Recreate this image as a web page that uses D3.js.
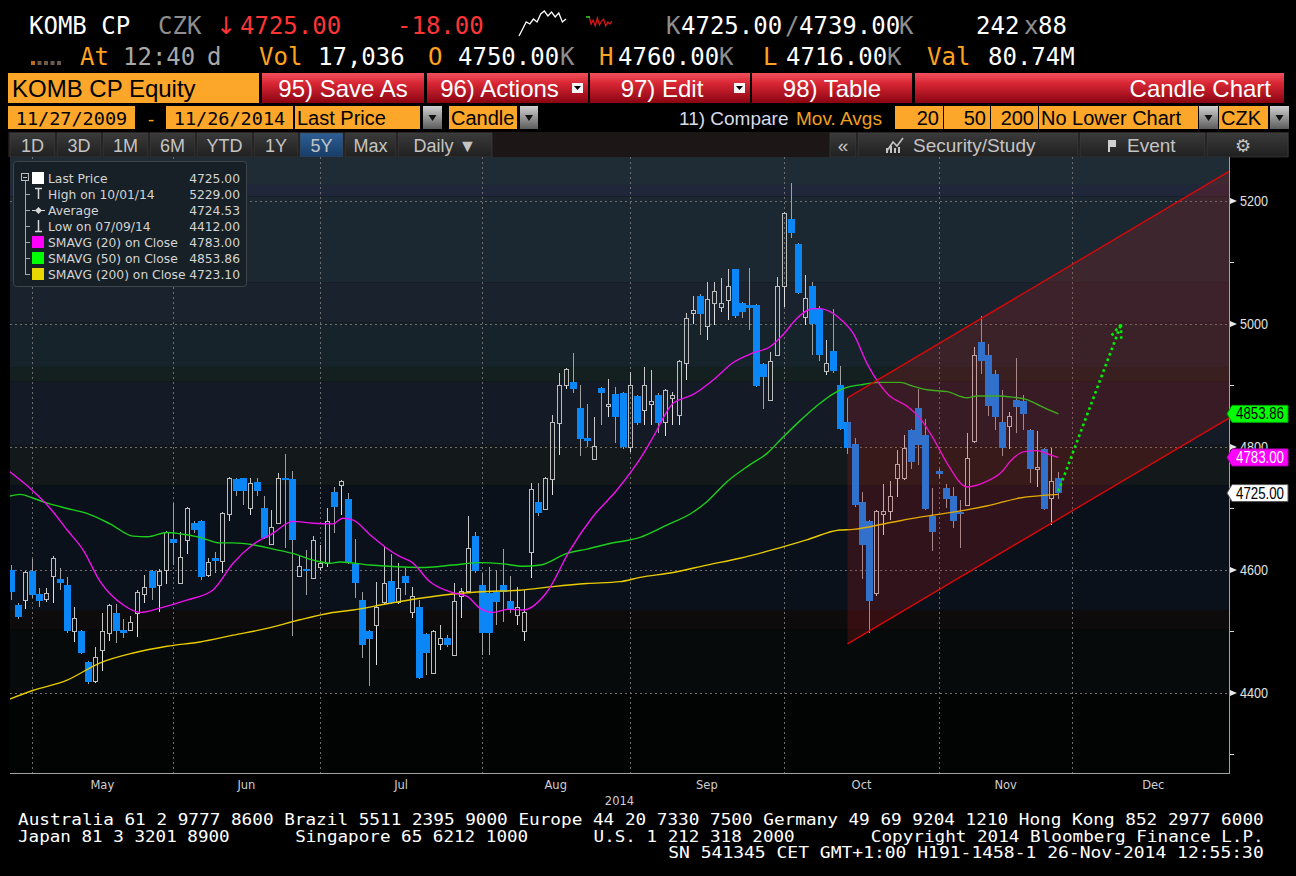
<!DOCTYPE html>
<html><head><meta charset="utf-8">
<script src="https://cdn.jsdelivr.net/npm/d3@7"></script>
<style>html,body{margin:0;padding:0;background:#000;overflow:hidden}svg{display:block}</style>
</head><body>
<svg id="chart" width="1296" height="876"></svg>
<script>
// ---------------- DATA ----------------
const dates = ["04-25","04-28","04-29","04-30",
"05-02","05-05","05-06","05-07","05-09","05-12","05-13","05-14","05-15","05-16","05-19","05-20","05-21","05-22","05-23","05-26","05-27","05-28","05-29","05-30",
"06-02","06-03","06-04","06-05","06-06","06-09","06-10","06-11","06-12","06-13","06-16","06-17","06-18","06-19","06-20","06-23","06-24","06-25","06-26","06-27","06-30",
"07-01","07-02","07-03","07-04","07-07","07-08","07-09","07-10","07-11","07-14","07-15","07-16","07-17","07-18","07-21","07-22","07-23","07-24","07-25","07-28","07-29","07-30","07-31",
"08-01","08-04","08-05","08-06","08-07","08-08","08-11","08-12","08-13","08-14","08-15","08-18","08-19","08-20","08-21","08-22","08-25","08-26","08-27","08-28","08-29",
"09-01","09-02","09-03","09-04","09-05","09-08","09-09","09-10","09-11","09-12","09-15","09-16","09-17","09-18","09-19","09-22","09-23","09-24","09-25","09-26","09-29","09-30",
"10-01","10-02","10-03","10-06","10-07","10-08","10-09","10-10","10-13","10-14","10-15","10-16","10-17","10-20","10-21","10-22","10-23","10-24","10-27","10-29","10-30","10-31",
"11-03","11-04","11-05","11-06","11-07","11-10","11-11","11-12","11-13","11-14","11-18","11-19","11-20","11-21","11-24","11-25","11-26"];

const opens = [4600,4543,4551,4598,4561,4553,4590,4585,4576,4500,4500,4450,4419,4470,4498,4530,4502,4503,4530,4561,
4599,4576,4600,4650,4579,4649,4676,4680,4592,4619,4615,4691,4748,4749,4701,4743,4700,4642,4677,4749,
4748,4590,4602,4587,4605,4611,4726,4738,4715,4610,4551,4500,4510,4548,4582,4548,4590,4531,4540,4496,
4433,4480,4489,4462,4557,4566,4655,4576,4563,4565,4576,4550,4527,4500,4630,4710,4699,4748,4839,4901,
4906,4863,4815,4780,4896,4866,4886,4888,4800,4883,4860,4870,4885,4841,4880,4852,4937,5018,5046,4996,
5034,5027,5039,5089,5034,5031,5031,4935,4876,4950,5061,5170,5130,5012,5062,5024,4923,4956,4901,4841,
4805,4711,4680,4562,4691,4696,4749,4749,4828,4863,4820,4687,4761,4734,4720,4695,4706,4809,4971,4950,
4919,4840,4834,4876,4874,4828,4765,4796,4717,4750];
const highs = [4608,4547,4598,4618,4571,4570,4622,4603,4588,4540,4502,4452,4475,4530,4545,4545,4520,4525,4567,4592,
4600,4601,4663,4709,4662,4703,4680,4682,4620,4630,4695,4752,4750,4750,4750,4750,4720,4697,4757,4789,
4761,4625,4632,4656,4640,4700,4735,4746,4725,4650,4565,4502,4581,4639,4626,4612,4603,4573,4551,4498,
4502,4510,4495,4579,4570,4688,4662,4595,4605,4600,4634,4590,4573,4567,4741,4741,4752,4852,4920,4928,
4953,4901,4870,4849,4898,4910,4898,4890,4922,4885,4930,4925,4887,4894,4890,4942,5018,5046,5048,5069,
5069,5075,5089,5090,5036,5091,5033,4937,4955,5076,5182,5229,5132,5080,5068,5030,4974,5024,4932,4880,
4815,4727,4682,4698,4740,4744,4795,4820,4830,4895,4845,4733,4765,4740,4735,4714,4822,4962,5013,4968,
4925,4892,4857,4944,4885,4830,4826,4798,4799,4760];
const lows = [4551,4520,4537,4555,4540,4548,4547,4567,4498,4483,4463,4415,4416,4436,4485,4482,4490,4500,4491,4546,
4551,4532,4577,4608,4578,4626,4660,4583,4588,4595,4595,4679,4721,4706,4690,4721,4650,4640,4675,4636,
4492,4588,4559,4585,4600,4605,4660,4690,4610,4554,4457,4412,4446,4545,4545,4545,4560,4522,4423,4429,
4432,4470,4475,4460,4522,4565,4595,4462,4462,4511,4516,4530,4510,4485,4587,4688,4697,4722,4787,4895,
4888,4785,4800,4779,4836,4849,4806,4797,4792,4835,4836,4836,4823,4818,4835,4836,4909,5000,4982,4974,
4998,5020,5006,5010,5010,4990,4897,4861,4874,4948,5028,5140,5048,4998,4950,4940,4917,4920,4828,4789,
4703,4586,4497,4558,4657,4681,4719,4747,4765,4771,4697,4631,4750,4700,4668,4636,4704,4807,4919,4850,
4827,4785,4796,4822,4827,4741,4735,4697,4673,4716];
const closes = [4564,4524,4597,4560,4550,4563,4620,4579,4500,4522,4465,4418,4458,4501,4543,4500,4498,4516,4565,4572,
4570,4599,4661,4644,4621,4701,4665,4589,4613,4615,4693,4750,4729,4729,4741,4729,4652,4670,4750,4746,
4649,4606,4599,4649,4612,4680,4703,4744,4613,4579,4478,4488,4540,4579,4547,4571,4579,4557,4425,4465,
4500,4489,4478,4550,4566,4636,4599,4498,4498,4548,4565,4537,4540,4531,4731,4692,4749,4841,4901,4927,
4894,4813,4809,4802,4888,4870,4849,4800,4901,4839,4901,4874,4839,4892,4885,4940,5010,5022,5017,5040,
5053,5034,5061,5013,5020,5026,4899,4914,4940,5061,5180,5148,5050,5042,5000,4950,4937,4924,4830,4799,
4705,4640,4550,4696,4696,4720,4772,4798,4775,4803,4699,4661,4756,4715,4679,4691,4782,4950,4939,4867,
4849,4799,4850,4865,4853,4765,4768,4699,4744,4725];

// moving averages: [trading-day index, value]
const sma20 = [[-0.2,4760],[3,4730],[5.6,4700],[8,4665],[10.3,4632],[12.7,4581],[16,4543],[18.4,4531],[21.2,4538],[25,4551],
[28.7,4567],[31.6,4611],[34.4,4641],[37.3,4660],[40.1,4679],[43,4676],[45.8,4675],[47.2,4684],[48.7,4681],[51.1,4657],
[53.5,4635],[55.3,4622],[57,4613],[59.6,4581],[62.9,4563],[64.9,4557],[66.7,4538],[68.6,4531],[70.6,4536],[72.9,4535],
[76.3,4565],[79.5,4632],[82.8,4687],[86.2,4730],[89.9,4788],[91.3,4815],[94.2,4871],[97,4885],[99.9,4909],[102.7,4937],
[105.6,4953],[108,4963],[109.8,4982],[111.8,5009],[114.1,5025],[115.1,5025],[117.9,5009],[119.8,4985],[121.9,4933],[124.8,4885],
[127.5,4866],[129.3,4847],[131.2,4814],[133.2,4773],[136,4735],[138.8,4744],[141,4760],[142.1,4776],[144,4792],[146,4794],
[147.4,4789],[149,4783]];
const sma50 = [[-0.2,4720],[1.3,4723],[3.1,4717],[5.1,4709],[8,4700],[10.8,4692],[14.1,4675],[17.4,4655],[19.4,4654],[22.2,4661],
[24,4659],[26.9,4653],[29.7,4644],[31.6,4644],[34.4,4641],[37.3,4634],[40.1,4627],[43,4616],[45.4,4611],[46.8,4613],
[51.1,4608],[58.2,4604],[62.9,4608],[66.7,4612],[70,4610],[72.9,4606],[75.3,4608],[79.1,4627],[81.9,4634],[85.2,4643],
[89.5,4653],[93.3,4673],[96.9,4693],[99,4711],[101.9,4744],[105.1,4771],[107.6,4790],[109.4,4811],[112,4840],[115.1,4871],
[116.9,4886],[118.9,4897],[120.8,4901],[123.6,4905],[126.5,4905],[128.3,4899],[130.3,4893],[133.2,4890],[136,4880],[137.4,4883],
[140.3,4883],[142.5,4881],[144.5,4877],[146.4,4867],[149,4854]];
const sma200 = [[-0.2,4390],[3.1,4404],[8,4421],[12.7,4449],[17.4,4465],[22.2,4476],[26.9,4483],[31.6,4494],[36.4,4505],[41.1,4519],
[45.4,4530],[48.7,4535],[53.5,4545],[58.2,4554],[62.9,4561],[67.7,4565],[72.4,4567],[77.1,4573],[81.9,4578],[86.6,4581],
[89.5,4588],[94.2,4596],[99,4608],[103.7,4619],[108.4,4633],[113.2,4649],[117.9,4665],[119.8,4666],[124.6,4676],[129.3,4686],
[134,4694],[138.8,4704],[143.5,4717],[149,4723]];

const monthNames = ["May","Jun","Jul","Aug","Sep","Oct","Nov","Dec"];
const monthBounds = [3,23,44,67,88,110,132,151,174];
const yearLabel = "2014";
const yTicksMajor = [4400,4600,4800,5000,5200];
const yTicksMinor = [4300,4500,4700,4900,5100];
const channelUpper = [[119,4880],[173.27,5248]];
const channelLower = [[119,4480],[173.27,4847]];
const trendArrow = [[149,4728],[157.9,4999]];
const tagValues = [4853.86, 4783.00, 4725.00];
const legendLabels = ["Last Price","High on 10/01/14","Average","Low on 07/09/14","SMAVG (20) on Close","SMAVG (50) on Close","SMAVG (200) on Close"];
const legendValues = ["4725.00","5229.00","4724.53","4412.00","4783.00","4853.86","4723.10"];
const sparkWhite = [3,10,17,15,20,17,25,28,23,27,22,26,17,20];
const sparkRed = [18,10,14,8,16,9,13,15,8,12,10,13];

// ---------------- SETUP ----------------
const MONO = "'DejaVu Sans Mono', monospace";
const SANS = "'Liberation Sans', Arial, sans-serif";
const DJ = "'DejaVu Sans', sans-serif";
const svg = d3.select("#chart");
const defs = svg.append("defs");
function vgrad(id, stops){
  const g = defs.append("linearGradient").attr("id",id).attr("x1",0).attr("y1",0).attr("x2",0).attr("y2",1);
  stops.forEach(s=>g.append("stop").attr("offset",s[0]).attr("stop-color",s[1]));
}
vgrad("redBtn",[[0,"#f2505c"],[0.35,"#d82634"],[1,"#8a0412"]]);
vgrad("greyDrop",[[0,"#d0d0d0"],[1,"#5c5c5c"]]);
vgrad("tabBtn",[[0,"#3a3a3a"],[1,"#202020"]]);
vgrad("tabSel",[[0,"#2d5f96"],[1,"#173c66"]]);

svg.append("rect").attr("width",1296).attr("height",876).attr("fill","#000");

function T(x,y,s,o={}){
  const t = svg.append("text").attr("x",x).attr("y",y).text(s)
    .attr("fill",o.fill||"#fff").attr("font-family",o.ff||MONO)
    .attr("font-size",o.fs||24).attr("text-anchor",o.a||"start")
    .attr("font-weight",o.w||"normal");
  if(o.len) t.attr("textLength",o.len).attr("lengthAdjust","spacingAndGlyphs");
  return t;
}

// ---------------- HEADER ROW 1 ----------------
const ORANGE = "#ffa21f", GREY="#8e8e8e", RED="#ff3434";
T(29,34,"KOMB CP");
T(158,34,"CZK",{fill:GREY});
T(216,34,"↓",{fill:RED,ff:DJ,fs:24});
T(240,34,"4725.00",{fill:RED});
T(397,34,"-18.00",{fill:RED});
{
  const sx = d3.scaleLinear().domain([0,sparkWhite.length-1]).range([519,566]);
  const sy = d3.scaleLinear().domain([0,30]).range([39,9]);
  svg.append("path").attr("d",d3.line().x((d,i)=>sx(i)).y(d=>sy(d))(sparkWhite))
    .attr("fill","none").attr("stroke","#fff").attr("stroke-width",1.3);
  const rx = d3.scaleLinear().domain([0,sparkRed.length-1]).range([589,612]);
  const ry = d3.scaleLinear().domain([0,30]).range([34,4]);
  svg.append("path").attr("d",d3.line().x((d,i)=>rx(i)).y(d=>ry(d))(sparkRed))
    .attr("fill","none").attr("stroke","#e01818").attr("stroke-width",1.2);
  svg.append("line").attr("x1",586).attr("x2",590).attr("y1",17).attr("y2",17).attr("stroke","#2ad02a").attr("stroke-width",1.5);
}
T(666,34,"K",{fill:GREY});
T(681,34,"4725.00");
T(785,34,"/",{fill:GREY});
T(799,34,"4739.00");
T(899,34,"K",{fill:GREY});
T(976,34,"242");
T(1024,34,"x",{fill:GREY});
T(1038,34,"88");

// ---------------- HEADER ROW 2 ----------------
[0,1,2,3,4].forEach(i=>svg.append("rect").attr("x",31+i*6.5).attr("y",61).attr("width",4).attr("height",4)
  .attr("fill", i===0?"#c06a18":"#6a5a4a"));
T(80,65,"At",{fill:ORANGE});
T(123,65,"12:40",{fill:"#a8a8a8"});
T(207,65,"d",{fill:"#a8a8a8"});
T(259,65,"Vol",{fill:ORANGE});
T(318,65,"17,036");
T(428,65,"O",{fill:ORANGE});
T(458,65,"4750.00");
T(560,65,"K",{fill:GREY});
T(599,65,"H",{fill:ORANGE});
T(618,65,"4760.00");
T(719,65,"K",{fill:GREY});
T(763,65,"L",{fill:ORANGE});
T(786,65,"4716.00");
T(887,65,"K",{fill:GREY});
T(927,65,"Val",{fill:ORANGE});
T(988,65,"80.74M");

// ---------------- ROW 3: buttons ----------------
svg.append("rect").attr("x",8).attr("y",73).attr("width",251).attr("height",30).attr("fill","#fca62a");
T(12,97,"KOMB CP Equity",{fill:"#000",ff:SANS,fs:24});
const btns = [[262,424,"95) Save As",false],[427,588,"96) Actions",true],[590,750,"97) Edit",true],[752,912,"98) Table",false]];
btns.forEach(b=>{
  svg.append("rect").attr("x",b[0]).attr("y",73).attr("width",b[1]-b[0]).attr("height",30).attr("fill","url(#redBtn)");
  const cx = (b[0]+b[1])/2 - (b[3]?8:0);
  T(cx,97,b[2],{ff:SANS,fs:24,a:"middle"});
  if(b[3]){
    const bx = b[1]-16;
    svg.append("rect").attr("x",bx).attr("y",83).attr("width",11).attr("height",10).attr("fill","#f4f4f4");
    svg.append("path").attr("d",`M${bx+2},${86}L${bx+9},${86}L${bx+5.5},${90}Z`).attr("fill","#000");
  }
});
svg.append("rect").attr("x",915).attr("y",73).attr("width",369).attr("height",30).attr("fill","url(#redBtn)");
T(1271,97,"Candle Chart",{ff:SANS,fs:24,a:"end"});

// ---------------- ROW 4 ----------------
function obox(x0,x1,label,anchor,fs,ff){
  svg.append("rect").attr("x",x0).attr("y",106).attr("width",x1-x0).attr("height",23).attr("fill","#fca62a");
  const tx = anchor==="end"? x1-4 : anchor==="middle" ? (x0+x1)/2 : x0+2;
  T(tx,125,label,{fill:"#000",ff:ff||SANS,fs:fs||19,a:anchor||"start"});
}
function gdrop(x0,x1){
  svg.append("rect").attr("x",x0).attr("y",106).attr("width",x1-x0).attr("height",23).attr("fill","url(#greyDrop)");
  const c=(x0+x1)/2;
  svg.append("path").attr("d",`M${c-4},${115}L${c+4},${115}L${c},${121}Z`).attr("fill","#111");
}
obox(8,135,"11/27/2009","middle",18.5,MONO);
T(151,125,"-",{fill:ORANGE,ff:MONO,fs:18.5,a:"middle"});
obox(166,293,"11/26/2014","middle",18.5,MONO);
obox(295,420,"Last Price","start",20);
gdrop(423,442);
obox(449,517,"Candle","start",20);
gdrop(520,538);
T(679,125,"11) Compare",{fill:"#d6dcea",ff:SANS,fs:19});
T(796,125,"Mov. Avgs",{fill:"#f0a020",ff:SANS,fs:19});
obox(895,943,"20","end",20);
obox(944,990,"50","end",20);
obox(991,1038,"200","end",20);
obox(1039,1198,"No Lower Chart","start",20);
gdrop(1199,1218);
obox(1219,1268,"CZK","start",20);
gdrop(1270,1289);

// ---------------- ROW 5: tabs ----------------
svg.append("rect").attr("x",8).attr("y",132).attr("width",1281).attr("height",25).attr("fill","#1d1616");
const tabs = [[10,55,"1D"],[57,101,"3D"],[103,148,"1M"],[150,195,"6M"],[197,252,"YTD"],[254,298,"1Y"],[300,343,"5Y"],[345,396,"Max"],[398,492,"Daily ▼"]];
tabs.forEach(tb=>{
  svg.append("rect").attr("x",tb[0]).attr("y",133).attr("width",tb[1]-tb[0]).attr("height",24)
    .attr("fill", tb[2]==="5Y"?"url(#tabSel)":"url(#tabBtn)").attr("stroke","#454545").attr("stroke-width",0.6);
  T((tb[0]+tb[1])/2,152,tb[2],{fill:"#c4c4c4",ff:SANS,fs:18,a:"middle"});
});
const rtabs = [[830,856],[858,1078],[1080,1205],[1207,1288]];
rtabs.forEach(tb=>svg.append("rect").attr("x",tb[0]).attr("y",133).attr("width",tb[1]-tb[0]).attr("height",24)
  .attr("fill","url(#tabBtn)").attr("stroke","#454545").attr("stroke-width",0.6));
T(843,152,"«",{fill:"#c4c4c4",ff:SANS,fs:19,a:"middle"});
svg.append("path").attr("d","M887,151 L893,142 L897,146 L903,138").attr("fill","none").attr("stroke","#c4c4c4").attr("stroke-width",1.6);
[[886,148,2,5],[890,146,2,7],[894,148,2,5],[898,147,2,6]].forEach(r=>svg.append("rect").attr("x",r[0]).attr("y",r[1]).attr("width",r[2]).attr("height",r[3]).attr("fill","#c4c4c4"));
T(913,152,"Security/Study",{fill:"#c4c4c4",ff:SANS,fs:19});
svg.append("path").attr("d","M1108,140 L1116,140 L1116,147 L1110,147 L1110,152 L1108,152 Z").attr("fill","#d0d0d0");
T(1127,152,"Event",{fill:"#c4c4c4",ff:SANS,fs:19});
T(1243,152,"⚙",{fill:"#c4c4c4",ff:DJ,fs:18,a:"middle"});

// ---------------- PLOT ----------------
const PL=10, PR=1229, PT=157, PB=773;
const x = d3.scaleLinear().domain([-0.13,173.27]).range([PL,PR]);
const y = d3.scaleLinear().domain([4269.9,5271.5]).range([PB,PT]);

defs.append("clipPath").attr("id","plotClip").append("rect").attr("x",PL).attr("y",PT).attr("width",PR-PL).attr("height",PB-PT);
const plot = svg.append("g").attr("clip-path","url(#plotClip)");

const bgBands = [[5272,5226,"#1f2c35"],[5226,5207,"#20273a"],[5207,5067,"#1b2831"],[5067,5002,"#1a222e"],[5002,4930,"#17232a"],
 [4930,4906,"#142020"],[4906,4803,"#141b27"],[4803,4738,"#13191a"],[4738,4535,"#0b111a"],[4535,4503,"#0e0b0c"],[4503,4400,"#060a0a"],[4400,4260,"#020303"]];
plot.selectAll("rect.band").data(bgBands).join("rect").attr("class","band")
  .attr("x",PL).attr("width",PR-PL).attr("y",d=>y(d[0])).attr("height",d=>y(d[1])-y(d[0])).attr("fill",d=>d[2]);

plot.selectAll("line.hg").data(yTicksMajor).join("line").attr("class","hg")
  .attr("x1",PL).attr("x2",PR).attr("y1",d=>Math.round(y(d))+0.5).attr("y2",d=>Math.round(y(d))+0.5)
  .attr("stroke","#6e6e6e").attr("stroke-dasharray","2,3").attr("stroke-width",1);
plot.selectAll("line.vg").data(monthBounds).join("line").attr("class","vg")
  .attr("x1",d=>Math.round(x(d))+0.5).attr("x2",d=>Math.round(x(d))+0.5).attr("y1",PT).attr("y2",PB)
  .attr("stroke","#6e6e6e").attr("stroke-dasharray","2,3").attr("stroke-width",1);

const candles = dates.map((d,i)=>({i,o:opens[i],h:highs[i],l:lows[i],c:closes[i]}));
const BLUE = "#0b86f7";
const cg = plot.append("g");
candles.forEach(d=>{
  const xi = Math.round(x(d.i));
  const up = d.c >= d.o;
  const yTop = Math.round(y(Math.max(d.o,d.c))), yBot = Math.round(y(Math.min(d.o,d.c)));
  const yH = Math.round(y(d.h)), yL = Math.round(y(d.l));
  if(up){
    cg.append("line").attr("x1",xi+0.5).attr("x2",xi+0.5).attr("y1",yH).attr("y2",yTop).attr("stroke","#c8c8c8");
    cg.append("line").attr("x1",xi+0.5).attr("x2",xi+0.5).attr("y1",yBot).attr("y2",yL).attr("stroke","#e0e0e0");
    cg.append("rect").attr("x",xi-1.5).attr("y",yTop+0.5).attr("width",4).attr("height",Math.max(0,yBot-yTop))
      .attr("fill","none").attr("stroke","#bdbdbd").attr("stroke-width",1);
  } else {
    cg.append("line").attr("x1",xi+0.5).attr("x2",xi+0.5).attr("y1",yH).attr("y2",yL).attr("stroke","#a0a0a0");
    cg.append("rect").attr("x",xi-3).attr("y",yTop).attr("width",7).attr("height",Math.max(2,yBot-yTop)).attr("fill",BLUE);
  }
});

const maLine = d3.line().x(d=>x(d[0])).y(d=>y(d[1])).curve(d3.curveMonotoneX);
[[sma200,"#e8cc00"],[sma50,"#1ccf1c"],[sma20,"#ee10ee"]].forEach(m=>{
  plot.append("path").attr("d",maLine(m[0])).attr("fill","none").attr("stroke",m[1]).attr("stroke-width",1.4);
});

const chanPoly = channelUpper.concat(channelLower.slice().reverse());
plot.append("path").attr("d",d3.line().x(d=>x(d[0])).y(d=>y(d[1]))(chanPoly)+"Z")
  .attr("fill","rgba(205,28,34,0.2)");
[channelUpper,channelLower].forEach(c=>plot.append("path").attr("d",d3.line().x(d=>x(d[0])).y(d=>y(d[1]))(c))
  .attr("stroke","#d80808").attr("stroke-width",1.4).attr("fill","none"));

{
  const p0=[x(trendArrow[0][0]),y(trendArrow[0][1])], p1=[x(trendArrow[1][0]),y(trendArrow[1][1])];
  const st = {stroke:"#00f000","stroke-width":2.6,"stroke-dasharray":"2.6,3.2",fill:"none"};
  const a = plot.append("line").attr("x1",p0[0]).attr("y1",p0[1]).attr("x2",p1[0]).attr("y2",p1[1]);
  Object.entries(st).forEach(([k,v])=>a.attr(k,v));
  const ang = Math.atan2(p0[1]-p1[1],p0[0]-p1[0]);
  [-0.38,0.36].forEach(da=>{
    const L=17;
    const b = plot.append("line").attr("x1",p1[0]).attr("y1",p1[1])
      .attr("x2",p1[0]+L*Math.cos(ang+da)).attr("y2",p1[1]+L*Math.sin(ang+da));
    Object.entries(st).forEach(([k,v])=>b.attr(k,v));
  });
}

svg.append("line").attr("x1",PR+0.5).attr("x2",PR+0.5).attr("y1",PT).attr("y2",PB+1).attr("stroke","#a0a0a0").attr("stroke-width",1);
svg.append("line").attr("x1",PL).attr("x2",PR+1).attr("y1",PB+0.5).attr("y2",PB+0.5).attr("stroke","#a0a0a0").attr("stroke-width",1);

svg.selectAll("path.ytri").data(yTicksMajor).join("path").attr("class","ytri")
  .attr("d",d=>{const yy=y(d);return `M${PR+1},${yy-3}L${PR+8},${yy}L${PR+1},${yy+3}Z`;}).attr("fill","#e8e8e8");
svg.selectAll("line.ymin").data(yTicksMinor).join("line").attr("class","ymin")
  .attr("x1",PR+1).attr("x2",PR+5).attr("y1",d=>Math.round(y(d))+0.5).attr("y2",d=>Math.round(y(d))+0.5).attr("stroke","#d8d8d8");
svg.selectAll("text.ylab").data(yTicksMajor).join("text").attr("class","ylab")
  .attr("x",PR+11).attr("y",d=>y(d)+5.5).text(d=>d).attr("fill","#e0e0e0")
  .attr("font-family",SANS).attr("font-size",15).attr("textLength",28).attr("lengthAdjust","spacingAndGlyphs");

const tagStyle = [["#00ff00","#000","#00a000"],["#ff00ff","#fff","#b000b0"],["#ffffff","#000","#555"]];
tagValues.forEach((v,i)=>{
  const yy = y(v), x0=PR+3, x1=PR+59;
  svg.append("path").attr("d",`M${x0-5},${yy}L${x0},${yy-8.5}L${x1},${yy-8.5}L${x1},${yy+8.5}L${x0},${yy+8.5}Z`)
    .attr("fill",tagStyle[i][0]).attr("stroke",tagStyle[i][2]).attr("stroke-width",1);
  svg.append("text").attr("x",x0+4).attr("y",yy+5.5).text(v.toFixed(2))
    .attr("fill",tagStyle[i][1]).attr("font-family",SANS).attr("font-size",16)
    .attr("textLength",48).attr("lengthAdjust","spacingAndGlyphs");
});

monthNames.forEach((m,i)=>{
  svg.append("text").attr("x",x((monthBounds[i]+monthBounds[i+1])/2)).attr("y",789).attr("text-anchor","middle")
    .text(m).attr("fill","#cfcfcf").attr("font-family",DJ).attr("font-size",11.5);
});
svg.append("text").attr("x",x((x.domain()[0]+x.domain()[1])/2)).attr("y",805).attr("text-anchor","middle")
  .text(yearLabel).attr("fill","#cfcfcf").attr("font-family",DJ).attr("font-size",11.5);

// ---------------- LEGEND ----------------
{
  const lg = svg.append("g");
  lg.append("rect").attr("x",13.5).attr("y",161.5).attr("width",233).attr("height",125).attr("rx",3)
    .attr("fill","#172026").attr("stroke","#3e454b");
  const rowsY = legendLabels.map((d,i)=>178+16*i);
  lg.append("rect").attr("x",21.5).attr("y",173.5).attr("width",7).attr("height",7).attr("fill","none").attr("stroke","#bbb");
  lg.append("line").attr("x1",23).attr("x2",27).attr("y1",177.5).attr("y2",177.5).attr("stroke","#bbb");
  lg.append("line").attr("x1",25.5).attr("x2",25.5).attr("y1",181).attr("y2",rowsY[6]+0.5).attr("stroke","#aaa");
  rowsY.slice(1).forEach(r=>lg.append("line").attr("x1",25).attr("x2",30).attr("y1",r+0.5).attr("y2",r+0.5).attr("stroke","#aaa"));
  const sw = ["#ffffff",null,null,null,"#ff00ff","#00ff00","#e8d800"];
  rowsY.forEach((r,i)=>{
    if(sw[i]) lg.append("rect").attr("x",32).attr("y",r-6).attr("width",12).attr("height",12).attr("fill",sw[i]);
    lg.append("text").attr("x",48).attr("y",r+4.5).text(legendLabels[i]).attr("fill","#d4d4d4").attr("font-family",DJ).attr("font-size",12.3);
    lg.append("text").attr("x",240).attr("y",r+4.5).attr("text-anchor","end").text(legendValues[i]).attr("fill","#d4d4d4").attr("font-family",DJ).attr("font-size",12.3);
  });
  const ic = "#d8d8d8";
  lg.append("line").attr("x1",38.5).attr("x2",38.5).attr("y1",rowsY[1]-6).attr("y2",rowsY[1]+5).attr("stroke",ic).attr("stroke-width",1.5);
  lg.append("line").attr("x1",35).attr("x2",42).attr("y1",rowsY[1]-5.5).attr("y2",rowsY[1]-5.5).attr("stroke",ic).attr("stroke-width",1.5);
  lg.append("line").attr("x1",32).attr("x2",45).attr("y1",rowsY[2]+0.5).attr("y2",rowsY[2]+0.5).attr("stroke",ic);
  lg.append("path").attr("d",`M38.5,${rowsY[2]-3}L42,${rowsY[2]+0.5}L38.5,${rowsY[2]+4}L35,${rowsY[2]+0.5}Z`).attr("fill",ic);
  lg.append("line").attr("x1",38.5).attr("x2",38.5).attr("y1",rowsY[3]-6).attr("y2",rowsY[3]+5).attr("stroke",ic).attr("stroke-width",1.5);
  lg.append("line").attr("x1",35).attr("x2",42).attr("y1",rowsY[3]+5.5).attr("y2",rowsY[3]+5.5).attr("stroke",ic).attr("stroke-width",1.5);
}

// ---------------- FOOTER ----------------
const COL = 10.66, FX = 18;
function F(col,row,s){
  svg.append("text").attr("x",FX+col*COL).attr("y",825+row*16.5).text(s)
    .attr("fill","#fff").attr("font-family",MONO).attr("font-size",15.5)
    .attr("textLength",s.length*COL-1.5).attr("lengthAdjust","spacingAndGlyphs");
}
F(0,0,"Australia 61 2 9777 8600 Brazil 5511 2395 9000 Europe 44 20 7330 7500 Germany 49 69 9204 1210 Hong Kong 852 2977 6000");
F(0,1,"Japan 81 3 3201 8900");
F(26,1,"Singapore 65 6212 1000");
F(54,1,"U.S. 1 212 318 2000");
F(80,1,"Copyright 2014 Bloomberg Finance L.P.");
F(61,2,"SN 541345 CET  GMT+1:00 H191-1458-1 26-Nov-2014 12:55:30");
</script>
</body></html>
